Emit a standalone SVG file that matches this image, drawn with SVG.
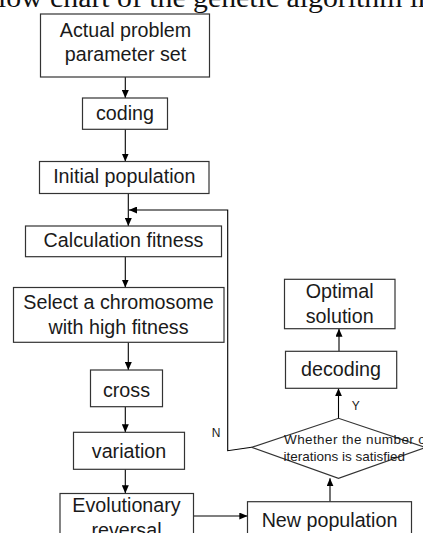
<svg xmlns="http://www.w3.org/2000/svg" width="423" height="533" viewBox="0 0 423 533">
<defs>
<marker id="ah" markerWidth="8" markerHeight="7" refX="8" refY="3.5" orient="auto" markerUnits="userSpaceOnUse">
<path d="M0,0 L8,3.5 L0,7 z" fill="#000"/>
</marker>
<style>
.box{fill:#fff;stroke:#333;stroke-width:1.2}
.t{font-family:"Liberation Sans",Arial,sans-serif;font-size:19.7px;fill:#1a1a1a;text-anchor:middle}
.s{font-family:"Liberation Sans",Arial,sans-serif;font-size:13.5px;fill:#1a1a1a}
.l{font-family:"Liberation Sans",Arial,sans-serif;font-size:12px;fill:#1a1a1a}
.c{fill:none;stroke:#000;stroke-width:1.1}
.title{font-family:"Liberation Serif","Times New Roman",serif;font-size:27px;fill:#111}
</style>
</defs>
<rect width="423" height="533" fill="#fff"/>
<text class="title" x="-12" y="6.5" textLength="445" lengthAdjust="spacingAndGlyphs">flow chart of the genetic algorithm in</text>
<g id="connectors">
<line class="c" x1="125.3" y1="77" x2="125.3" y2="98" marker-end="url(#ah)"/>
<line class="c" x1="125.3" y1="129.3" x2="125.3" y2="161.5" marker-end="url(#ah)"/>
<line class="c" x1="128.3" y1="193.3" x2="128.3" y2="226" marker-end="url(#ah)"/>
<polyline class="c" points="251.7,447.3 227.7,450.7 227.7,210 129,210" marker-end="url(#ah)"/>
<line class="c" x1="125.3" y1="256.7" x2="125.3" y2="287.5" marker-end="url(#ah)"/>
<line class="c" x1="128.3" y1="342.3" x2="128.3" y2="370" marker-end="url(#ah)"/>
<line class="c" x1="125.3" y1="406.7" x2="125.3" y2="432.3" marker-end="url(#ah)"/>
<line class="c" x1="125.3" y1="469.3" x2="125.3" y2="493.3" marker-end="url(#ah)"/>
<line class="c" x1="193.3" y1="516" x2="247.3" y2="516" marker-end="url(#ah)"/>
<line class="c" x1="330" y1="501.7" x2="330" y2="478.3" marker-end="url(#ah)"/>
<line class="c" x1="338.5" y1="418.3" x2="338.5" y2="388.3" marker-end="url(#ah)"/>
<line class="c" x1="339" y1="351.3" x2="339" y2="328.7" marker-end="url(#ah)"/>
<text class="l" x="216" y="436.5" text-anchor="middle">N</text>
<text class="l" x="351.7" y="410">Y</text>
</g>
<g id="n1"><rect class="box" x="40.5" y="14" width="169" height="63"/><text class="t" x="125.5" y="36.5">Actual problem</text><text class="t" x="125.5" y="61">parameter set</text></g>
<g id="n2"><rect class="box" x="82.5" y="98" width="85" height="31.3"/><text class="t" x="125" y="120">coding</text></g>
<g id="n3"><rect class="box" x="39.5" y="161.5" width="169.5" height="32"/><text class="t" x="124.3" y="183.3">Initial population</text></g>
<g id="n4"><rect class="box" x="25.5" y="226" width="196" height="30.7"/><text class="t" x="123.5" y="247">Calculation fitness</text></g>
<g id="n5"><rect class="box" x="13.5" y="287.5" width="210.5" height="54.8"/><text class="t" x="118.5" y="308.5">Select a chromosome</text><text class="t" x="118.5" y="333.5">with high fitness</text></g>
<g id="n6"><rect class="box" x="90.5" y="370" width="72" height="36.7"/><text class="t" x="126.5" y="396.5">cross</text></g>
<g id="n7"><rect class="box" x="73.5" y="432.3" width="111" height="37"/><text class="t" x="129" y="458.3">variation</text></g>
<g id="n8"><rect class="box" x="60" y="493.5" width="133.5" height="52"/><text class="t" x="126.5" y="511.5">Evolutionary</text><text class="t" x="126.5" y="537">reversal</text></g>
<g id="n9"><rect class="box" x="247.5" y="501.7" width="164" height="45"/><text class="t" x="329.5" y="526.7">New population</text></g>
<g id="n10"><polygon class="box" points="251.7,447.3 338.5,418.3 425.5,447.5 338.5,478.3"/><text class="s" x="284" y="443.5" textLength="146" lengthAdjust="spacing">Whether the number of</text><text class="s" x="283.5" y="461">iterations is satisfied</text></g>
<g id="n11"><rect class="box" x="285.5" y="351.3" width="111.2" height="37"/><text class="t" x="341" y="376">decoding</text></g>
<g id="n12"><rect class="box" x="284.5" y="279.3" width="110.5" height="49.4"/><text class="t" x="339.7" y="297.5">Optimal</text><text class="t" x="339.7" y="323.3">solution</text></g>
</svg>
